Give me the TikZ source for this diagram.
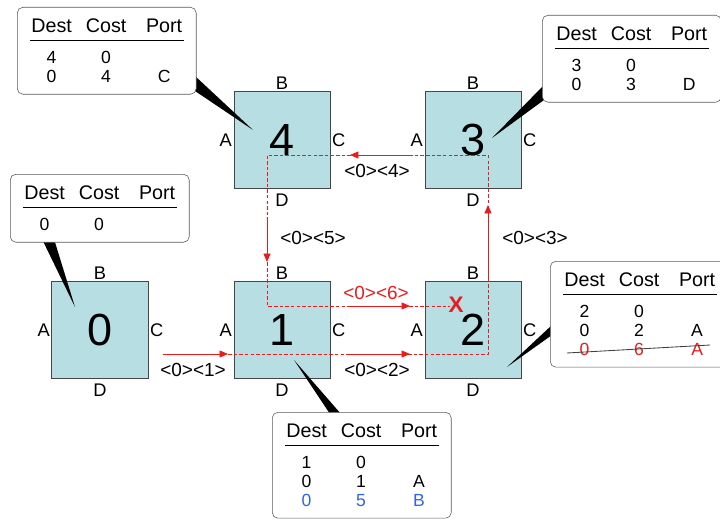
\documentclass[tikz,border=0pt]{standalone}
\usepackage{fontspec}
\setmainfont{Liberation Sans}
\usetikzlibrary{arrows.meta}

\definecolor{boxfill}{RGB}{183,222,226}
\definecolor{boxline}{RGB}{70,70,70}
\definecolor{tabline}{RGB}{90,90,90}
\definecolor{msgred}{RGB}{232,28,28}
\definecolor{newblue}{RGB}{50,100,230}

\newcommand{\hd}[1]{{\fontsize{14}{14}\selectfont #1}}
\newcommand{\rthead}{\noalign{\vskip 4pt}\hd{Dest} & \hd{Cost} & \hd{Port}\\[1.6pt]\hline\noalign{\vskip 7pt}}
\newenvironment{rtable}{\begin{tabular}{@{\hspace{1pt}}c@{\hspace{10pt}}c@{\hspace{14pt}}c@{\hspace{1pt}}}}{\end{tabular}}

\begin{document}
\begin{tikzpicture}[
  x=0.025cm, y=-0.025cm,
  router/.style = {draw=boxline, line width=0.7pt, fill=boxfill,
                   minimum size=2.4cm, inner sep=0pt,
                   font=\fontsize{32}{32}\selectfont},
  port/.style   = {font=\fontsize{13}{13}\selectfont, inner sep=1pt},
  ports/.style  = {label={[port]left:A}, label={[port]above:B},
                   label={[port]right:C}, label={[port, label distance=2.5pt]below:D}},
  rtab/.style   = {draw=tabline, fill=white, rounded corners=4pt, anchor=north west,
                   inner xsep=9pt, inner ysep=4pt, font=\fontsize{12.5}{13.5}\selectfont},
  msg/.style    = {font=\fontsize{13.5}{13.5}\selectfont},
  trace/.style  = {msgred, line width=0.6pt, dash pattern=on 2.5pt off 1.5pt},
  hop/.style    = {msgred, line width=0.6pt, -{Triangle[length=6pt, width=5pt]}},
  wedge/.style  = {fill=black},
  strike/.style = {draw=black!75, line width=0.6pt},
]
\useasboundingbox (0,0) rectangle (720,518);

%%────────── routers ─────────────────────────────────────────
\node[router, ports] (r0) at (100,330) {0};
\node[router, ports] (r1) at (282,330) {1};
\node[router, ports] (r2) at (473,330) {2};
\node[router, ports] (r3) at (473,140) {3};
\node[router, ports] (r4) at (282,140) {4};

%%────────── route of the update ─────────────────────────────
\coordinate (h1s) at (163,354); \coordinate (h1e) at (228,354);
\coordinate (h2s) at (348,354); \coordinate (h2e) at (410,354);
\coordinate (h3s) at (488,282); \coordinate (h3e) at (488,205);
\coordinate (h4s) at (410,155); \coordinate (h4e) at (350,155);
\coordinate (h5s) at (267,218); \coordinate (h5e) at (267,262);
\coordinate (h6s) at (348,306); \coordinate (h6e) at (410,306);
\coordinate (turn2) at (488,354);
\coordinate (turn3) at (488,155);
\coordinate (turn4) at (267,155);
\coordinate (turn1) at (267,306);
\coordinate (stop)  at (450,306);

\draw[trace] (h1e) -- (turn2) -- (turn3) -- (turn4) -- (turn1) -- (stop);

\draw[hop] (h1s) -- (h1e);
\draw[hop] (h2s) -- (h2e);
\draw[hop] (h3s) -- (h3e);
\draw[hop] (h4s) -- (h4e);
\draw[hop] (h5s) -- (h5e);
\draw[hop] (h6s) -- (h6e);

\node[msg] (m1) at (193,370) {<0><1>};
\node[msg] (m2) at (377,370) {<0><2>};
\node[msg] (m3) at (535,238) {<0><3>};
\node[msg] (m4) at (377,171) {<0><4>};
\node[msg] (m5) at (313,238) {<0><5>};
\node[msg, text=msgred] (m6) at (376,293) {<0><6>};

\node[font=\fontsize{16}{16}\selectfont\bfseries, text=msgred] (cut) at (456,305) {X};

%%────────── callout pointers ────────────────────────────────
\fill[wedge] (195,76)  -- (253,130) -- (195,91)  -- cycle;
\fill[wedge] (42,239)  -- (75,307)  -- (54,239)  -- cycle;
\fill[wedge] (544,85)  -- (492,138) -- (544,100) -- cycle;
\fill[wedge] (552,325) -- (507,367) -- (552,335) -- cycle;
\fill[wedge] (330,414) -- (294,360) -- (341,414) -- cycle;

%%────────── routing tables ──────────────────────────────────
\node[rtab] (t4) at (17,7) {\begin{rtable}\rthead
  4 & 0 & \\
  0 & 4 & C
\end{rtable}};

\node[rtab] (t0) at (10,174) {\begin{rtable}\rthead
  0 & 0 &
\end{rtable}};

\node[rtab] (t3) at (542,15) {\begin{rtable}\rthead
  3 & 0 & \\
  0 & 3 & D
\end{rtable}};

\node[rtab] (t2) at (550,261) {\begin{rtable}\rthead
  2 & 0 & \\
  0 & 2 & A \\
  \textcolor{msgred}{0} & \textcolor{msgred}{6} & \textcolor{msgred}{A}
\end{rtable}};
\draw[strike] (567,353) -- (710,345);

\node[rtab] (t1) at (272,412) {\begin{rtable}\rthead
  1 & 0 & \\
  0 & 1 & A \\
  \textcolor{newblue}{0} & \textcolor{newblue}{5} & \textcolor{newblue}{B}
\end{rtable}};

\end{tikzpicture}
\end{document}
